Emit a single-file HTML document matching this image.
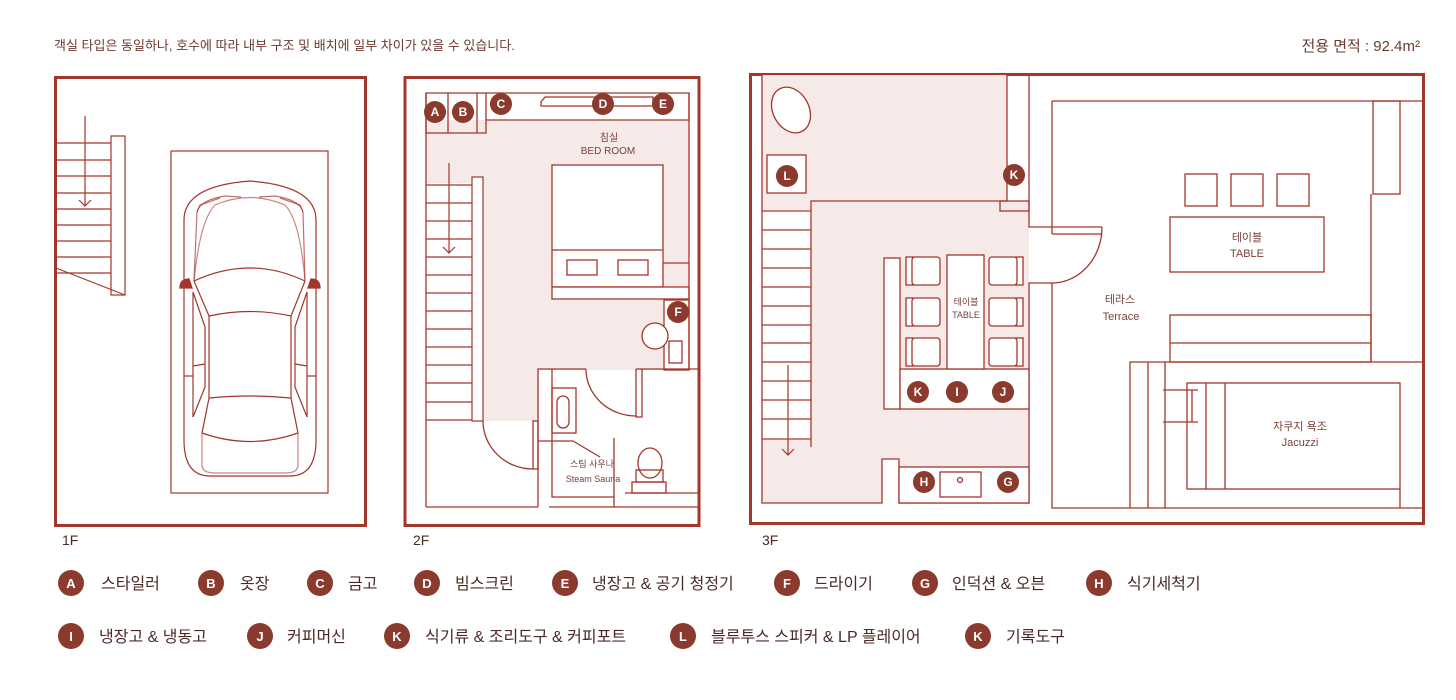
<!DOCTYPE html>
<html><head><meta charset="utf-8"><style>
html,body{margin:0;padding:0;background:#fff;}
svg{display:block;}
text{font-family:"Liberation Sans","Noto Sans CJK KR",sans-serif;}
</style></head><body>
<svg width="1456" height="700" viewBox="0 0 1456 700" xmlns="http://www.w3.org/2000/svg">
<defs>
<marker id="ar" markerWidth="12" markerHeight="10" refX="6" refY="8" orient="auto" markerUnits="userSpaceOnUse"></marker>
</defs>
<!-- header -->
<text x="54" y="50" font-size="13" fill="#6b3a32">객실 타입은 동일하나, 호수에 따라 내부 구조 및 배치에 일부 차이가 있을 수 있습니다.</text>
<text x="1420" y="51" font-size="15" fill="#6b3a32" text-anchor="end">전용 면적 : 92.4m²</text>

<g fill="none" stroke="#a3362b" stroke-width="1.3">
<!-- ========== 1F ========== -->
<rect x="55.5" y="77.5" width="310" height="448" stroke-width="3"/>
<g stroke-width="1.2">
<line x1="56" y1="143" x2="111" y2="143"/><line x1="56" y1="160" x2="111" y2="160"/>
<line x1="56" y1="176" x2="111" y2="176"/><line x1="56" y1="193" x2="111" y2="193"/>
<line x1="56" y1="209" x2="111" y2="209"/><line x1="56" y1="225" x2="111" y2="225"/>
<line x1="56" y1="241" x2="111" y2="241"/><line x1="56" y1="257" x2="111" y2="257"/>
<line x1="56" y1="273" x2="111" y2="273"/>
<rect x="111" y="136" width="14" height="159"/>
<line x1="56" y1="268" x2="125" y2="295"/>
<line x1="85" y1="116" x2="85" y2="206"/>
<polyline points="79,200 85,206 91,200"/>
<rect x="171" y="151" width="157" height="342"/>
</g>
<!-- car -->
<g stroke-width="1.2">
<path d="M184,220 Q184,186 250,181 Q316,186 316,220 L316,440 Q316,476 290,476 L210,476 Q184,476 184,440 Z"/>
<path d="M194,281 Q250,255 305,281"/>
<path d="M194,281 L209,316 M305,281 L291,316"/>
<path d="M209,316 Q250,307 291,316"/>
<path d="M209,316 L209,398 M291,316 L291,398"/>
<path d="M209,398 Q250,394 291,398"/>
<path d="M209,398 L202,433 M291,398 L298,433"/>
<path d="M202,433 Q250,450 298,433"/>
<path d="M202,433 L202,465 Q202,473 215,473 L285,473 Q298,473 298,465 L298,433" stroke-opacity="0.6"/>
<path d="M193,292 L205,327 L205,387 L193,417 Z"/>
<path d="M307,292 L295,327 L295,387 L307,417 Z"/>
<path d="M194,281 L197,212 Q200,200 225,196 L241,197 M305,281 L303,212 Q300,200 275,196 L259,197" stroke-opacity="0.7"/>
<path d="M197,212 L200,205 L220,198 M303,212 L300,205 L280,198" stroke-opacity="0.7"/>
<path d="M194,281 Q200,220 215,205 Q250,190 285,205 Q300,220 305,281" stroke-opacity="0.6"/>
<path d="M184,376 L193,376 M316,376 L307,376 M193,366 L205,364 M307,366 L295,364" />
</g>
<path d="M180,288 Q180,279 189,279 L192,288 Z M320,288 Q320,279 311,279 L308,288 Z" fill="#a3362b"/>

<!-- ========== 2F ========== -->
<rect x="405" y="77.5" width="294" height="448" stroke-width="3"/>
<path d="M426,120 L689,120 L689,300 L664,300 L664,370 L539,370 L539,421 L426,421 Z" fill="#f5eae8" stroke="none"/>
<rect x="426" y="183" width="46" height="238" fill="#fff" stroke="none"/>
<rect x="552" y="165" width="111" height="122" fill="#fff"/>
<line x1="552" y1="250" x2="663" y2="250"/>
<rect x="567" y="260" width="30" height="15"/><rect x="618" y="260" width="30" height="15"/>
<rect x="552" y="287" width="137" height="12" fill="#fff"/>
<line x1="663" y1="263" x2="689" y2="263"/>
<rect x="664" y="300" width="25" height="70" fill="#fff"/>
<rect x="669" y="341" width="13" height="22"/>
<circle cx="655" cy="336" r="13" fill="#fff"/>
<!-- top closets -->
<path d="M426,93 L689,93 L689,120 L486,120 L486,133 L426,133 Z M448,93 L448,133 M477,93 L477,133 M486,93 L486,120"/>
<path d="M541,102 L545,97 L653,97 L653,106 L541,106 Z"/>
<line x1="426" y1="93" x2="426" y2="507"/>
<line x1="689" y1="93" x2="689" y2="120"/>
<line x1="689" y1="120" x2="689" y2="370"/>
<!-- stairs -->
<g stroke-width="1.2">
<line x1="426" y1="185" x2="472" y2="185"/><line x1="426" y1="203" x2="472" y2="203"/>
<line x1="426" y1="221" x2="472" y2="221"/><line x1="426" y1="239" x2="472" y2="239"/>
<line x1="426" y1="257" x2="472" y2="257"/><line x1="426" y1="275" x2="472" y2="275"/>
<line x1="426" y1="293" x2="472" y2="293"/><line x1="426" y1="311" x2="472" y2="311"/>
<line x1="426" y1="329" x2="472" y2="329"/><line x1="426" y1="347" x2="472" y2="347"/>
<line x1="426" y1="365" x2="472" y2="365"/><line x1="426" y1="383" x2="472" y2="383"/>
<line x1="426" y1="402" x2="472" y2="402"/><line x1="426" y1="420" x2="472" y2="420"/>
<rect x="472" y="177" width="11" height="244" fill="#fff"/>
<line x1="449" y1="163" x2="449" y2="253"/>
<polyline points="443,247 449,253 455,247"/>
</g>
<!-- bathroom walls -->
<path d="M538,507 L538,369 L586,369 M636,369 L698,369"/>
<path d="M552,369 L552,497 L614,497"/>
<path d="M586,369 A50,47 0 0 0 636,416"/>
<path d="M636,369 L636,417 L642,417 L642,369"/>
<rect x="552" y="388" width="24" height="45"/>
<rect x="557" y="396" width="12" height="32" rx="6"/>
<path d="M538,441 L573,441 L600,457"/>
<path d="M483,421 A50,48 0 0 0 533,469"/>
<rect x="533" y="421" width="5" height="48"/>
<path d="M426,507 L538,507 M549,507 L698,507 M614,438 L614,507 M625,493 L698,493"/>
<ellipse cx="650" cy="463" rx="12" ry="15"/>
<rect x="636" y="470" width="27" height="12"/>
<rect x="632" y="482" width="34" height="11"/>

<!-- ========== 3F ========== -->
<rect x="750.5" y="74.5" width="673" height="449" stroke-width="3"/>
<path d="M762,75 L1007,75 L1007,201 L1029,201 L1029,467 L899,467 L899,459 L882,459 L882,503 L762,503 Z" fill="#f5eae8" stroke="none"/>
<rect x="762" y="210" width="49" height="230" fill="#fff" stroke="none"/>
<path d="M762,75 L762,503 L882,503 L882,459 L899,459 L899,503 L1029,503 L1029,283 L1052,283"/>
<path d="M1007,75 L1007,201 L811,201 L811,447"/>
<rect x="1000" y="201" width="29" height="10"/>
<path d="M1029,75 L1029,227 L1102,227 M1052,234 L1102,234"/>
<path d="M1102,227 A50,56 0 0 1 1052,283"/>
<g stroke-width="1.2">
<line x1="762" y1="211" x2="811" y2="211"/><line x1="762" y1="230" x2="811" y2="230"/>
<line x1="762" y1="249" x2="811" y2="249"/><line x1="762" y1="268" x2="811" y2="268"/>
<line x1="762" y1="287" x2="811" y2="287"/><line x1="762" y1="306" x2="811" y2="306"/>
<line x1="762" y1="325" x2="811" y2="325"/><line x1="762" y1="343" x2="811" y2="343"/>
<line x1="762" y1="362" x2="811" y2="362"/><line x1="762" y1="381" x2="811" y2="381"/>
<line x1="762" y1="400" x2="811" y2="400"/><line x1="762" y1="419" x2="811" y2="419"/>
<line x1="762" y1="439" x2="811" y2="439"/>
<line x1="788" y1="365" x2="788" y2="455"/>
<polyline points="782,449 788,455 794,449"/>
</g>
<ellipse cx="791" cy="110" rx="18" ry="24" transform="rotate(-28 791 110)" fill="#fff"/>
<rect x="767" y="155" width="39" height="38" fill="#fff"/>
<!-- dining -->
<rect x="884" y="258" width="16" height="151" fill="#fff"/>
<rect x="900" y="369" width="129" height="40" fill="#fff"/>
<rect x="947" y="255" width="37" height="114" fill="#fff"/>
<g fill="#fff">
<rect x="906" y="257" width="7" height="28"/><rect x="912" y="257" width="28" height="28" rx="3"/>
<rect x="906" y="298" width="7" height="28"/><rect x="912" y="298" width="28" height="28" rx="3"/>
<rect x="906" y="338" width="7" height="28"/><rect x="912" y="338" width="28" height="28" rx="3"/>
<rect x="1016" y="257" width="7" height="28"/><rect x="989" y="257" width="28" height="28" rx="3"/>
<rect x="1016" y="298" width="7" height="28"/><rect x="989" y="298" width="28" height="28" rx="3"/>
<rect x="1016" y="338" width="7" height="28"/><rect x="989" y="338" width="28" height="28" rx="3"/>
</g>
<rect x="899" y="467" width="130" height="36" fill="#fff"/>
<rect x="940" y="472" width="41" height="25"/>
<circle cx="960" cy="480" r="2.5"/>
<!-- terrace -->
<path d="M1052,101 L1052,234 M1052,283 L1052,508 L1423,508 M1052,101 L1423,101"/>
<rect x="1373" y="101" width="27" height="93"/>
<path d="M1371,194 L1371,362"/>
<rect x="1185" y="174" width="32" height="32"/><rect x="1231" y="174" width="32" height="32"/><rect x="1277" y="174" width="32" height="32"/>
<rect x="1170" y="217" width="154" height="55"/>
<rect x="1170" y="315" width="201" height="47"/><line x1="1170" y1="343" x2="1371" y2="343"/>
<path d="M1130,508 L1130,362 L1423,362 M1148,362 L1148,508 M1165,362 L1165,508"/>
<rect x="1187" y="383" width="213" height="106"/>
<path d="M1206,383 L1206,489 M1225,383 L1225,489 M1400,489 L1400,508"/>
<path d="M1163,390 L1198,390 M1163,422 L1198,422 M1192,390 L1192,422"/>
</g>

<!-- room labels -->
<g fill="#7a4038" text-anchor="middle" font-size="10">
<text x="609" y="141">침실</text><text x="608" y="154">BED ROOM</text>
<text x="592" y="467" font-size="9">스팀 사우나</text><text x="593" y="482" font-size="9">Steam Sauna</text>
<text x="966" y="305" font-size="9">테이블</text><text x="966" y="318" font-size="9">TABLE</text>
<text x="1247" y="241" font-size="11">테이블</text><text x="1247" y="257" font-size="11">TABLE</text>
<text x="1120" y="303" font-size="11">테라스</text><text x="1121" y="320" font-size="11">Terrace</text>
<text x="1300" y="430" font-size="11">자쿠지 욕조</text><text x="1300" y="446" font-size="11">Jacuzzi</text>
</g>
<g fill="#4a2a25" font-size="14">
<text x="62" y="545">1F</text><text x="413" y="545">2F</text><text x="762" y="545">3F</text>
</g>

<!-- plan markers -->
<g font-size="12" font-weight="bold" text-anchor="middle">
<g fill="#8b3a2e"><circle cx="435" cy="112" r="11"/><circle cx="463" cy="112" r="11"/><circle cx="501" cy="104" r="11"/><circle cx="603" cy="104" r="11"/><circle cx="663" cy="104" r="11"/><circle cx="678" cy="312" r="11"/>
<circle cx="787" cy="176" r="11"/><circle cx="1014" cy="175" r="11"/><circle cx="918" cy="392" r="11"/><circle cx="957" cy="392" r="11"/><circle cx="1003" cy="392" r="11"/><circle cx="924" cy="482" r="11"/><circle cx="1008" cy="482" r="11"/></g>
<g fill="#fff"><text x="435" y="116">A</text><text x="463" y="116">B</text><text x="501" y="108">C</text><text x="603" y="108">D</text><text x="663" y="108">E</text><text x="678" y="316">F</text>
<text x="787" y="180">L</text><text x="1014" y="179">K</text><text x="918" y="396">K</text><text x="957" y="396">I</text><text x="1003" y="396">J</text><text x="924" y="486">H</text><text x="1008" y="486">G</text></g>
</g>

<!-- legend -->
<g fill="#8b3a2e">
<circle cx="71" cy="583" r="13"/><circle cx="211" cy="583" r="13"/><circle cx="320" cy="583" r="13"/><circle cx="427" cy="583" r="13"/><circle cx="565" cy="583" r="13"/><circle cx="787" cy="583" r="13"/><circle cx="925" cy="583" r="13"/><circle cx="1099" cy="583" r="13"/>
<circle cx="71" cy="636" r="13"/><circle cx="260" cy="636" r="13"/><circle cx="397" cy="636" r="13"/><circle cx="683" cy="636" r="13"/><circle cx="978" cy="636" r="13"/>
</g>
<g fill="#fff" font-size="13" font-weight="bold" text-anchor="middle">
<text x="71" y="588">A</text><text x="211" y="588">B</text><text x="320" y="588">C</text><text x="427" y="588">D</text><text x="565" y="588">E</text><text x="787" y="588">F</text><text x="925" y="588">G</text><text x="1099" y="588">H</text>
<text x="71" y="641">I</text><text x="260" y="641">J</text><text x="397" y="641">K</text><text x="683" y="641">L</text><text x="978" y="641">K</text>
</g>
<g fill="#4a2a25" font-size="16">
<text x="101" y="589">스타일러</text><text x="240" y="589">옷장</text><text x="348" y="589">금고</text><text x="455" y="589">빔스크린</text><text x="592" y="589">냉장고 &amp; 공기 청정기</text><text x="814" y="589">드라이기</text><text x="952" y="589">인덕션 &amp; 오븐</text><text x="1127" y="589">식기세척기</text>
<text x="99" y="642">냉장고 &amp; 냉동고</text><text x="287" y="642">커피머신</text><text x="425" y="642">식기류 &amp; 조리도구 &amp; 커피포트</text><text x="711" y="642">블루투스 스피커 &amp; LP 플레이어</text><text x="1006" y="642">기록도구</text>
</g>
</svg>
</body></html>
